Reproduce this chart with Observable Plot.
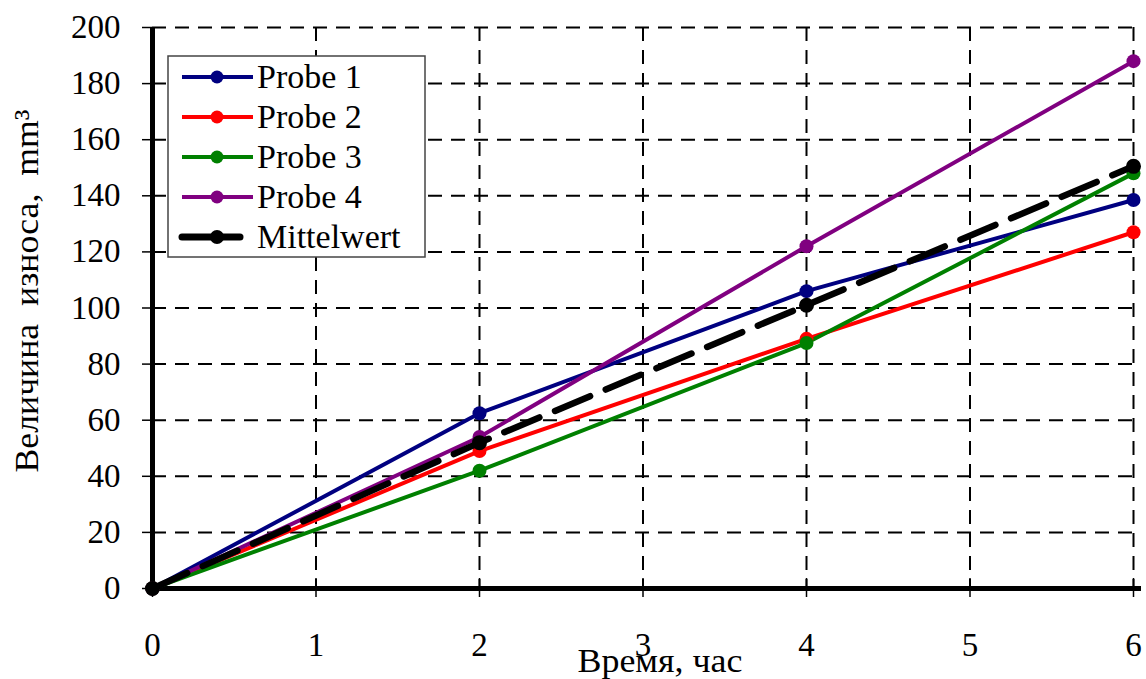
<!DOCTYPE html>
<html>
<head>
<meta charset="utf-8">
<script src="https://cdn.jsdelivr.net/npm/d3@7"></script>
<script src="https://cdn.jsdelivr.net/npm/@observablehq/plot@0.6"></script>
<style>
  html, body { margin: 0; padding: 0; background: #fff; }
  #chart { width: 1146px; height: 679px; }
  #chart svg, #chart svg text { font-family: "Liberation Serif", "DejaVu Serif", serif !important; }
</style>
</head>
<body>
<div id="chart"></div>
<script>
const xTicks = [0, 1, 2, 3, 4, 5, 6];
const yTicks = [0, 20, 40, 60, 80, 100, 120, 140, 160, 180, 200];
const hours = [0, 2, 4, 6];
const probe1 = [0, 62.5, 106, 138.5];
const probe2 = [0, 49, 89, 127];
const probe3 = [0, 42, 87.5, 148];
const probe4 = [0, 54, 122, 188];
const mittelwert = [0, 52, 101, 150.5];
const seriesNames = ["Probe 1", "Probe 2", "Probe 3", "Probe 4", "Mittelwert"];
const seriesColors = ["#000080", "#ff0000", "#008000", "#800080", "#000000"];
const xTitle = "Время, час";
const yTitle = "Величина  износа,  mm³";

const seriesValues = [probe1, probe2, probe3, probe4, mittelwert];
const rows = seriesNames.flatMap((name, i) =>
  hours.map((h, j) => ({ name, hour: h, value: seriesValues[i][j] })));
const probeRows = rows.filter(d => d.name !== "Mittelwert");
const meanRows = rows.filter(d => d.name === "Mittelwert");

const FONT = "Liberation Serif, DejaVu Serif, serif";

const chart = Plot.plot({
  width: 1146,
  height: 679,
  marginLeft: 152,
  marginRight: 13,
  marginTop: 27,
  marginBottom: 91,
  style: { fontFamily: FONT, color: "#000", background: "#fff" },
  x: { domain: [0, 6], ticks: xTicks },
  y: { domain: [0, 200], ticks: yTicks },
  color: { domain: seriesNames, range: seriesColors },
  marks: [
    Plot.ruleY(yTicks.filter(d => d > 0), { stroke: "#000", strokeWidth: 2, strokeDasharray: "14,9" }),
    Plot.ruleX(xTicks.filter(d => d > 0), { stroke: "#000", strokeWidth: 2, strokeDasharray: "14,9" }),
    Plot.ruleX(xTicks, { y1: 0, y2: 0, insetTop: -10, insetBottom: -9, stroke: "#000", strokeWidth: 1.5 }),
    Plot.ruleX([0], { stroke: "#000", strokeWidth: 5 }),
    Plot.ruleY([0], { stroke: "#000", strokeWidth: 5, insetRight: -8 }),
    Plot.line(probeRows, { x: "hour", y: "value", z: "name", stroke: "name", strokeWidth: 4 }),
    Plot.dot(probeRows, { x: "hour", y: "value", fill: "name", r: 7 }),
    Plot.line(meanRows, { x: "hour", y: "value", stroke: "#000", strokeWidth: 6.5, strokeDasharray: "38,17" }),
    Plot.dot(meanRows, { x: "hour", y: "value", fill: "#000", r: 7.5 }),
    Plot.axisY(yTicks, { tickSize: 10, tickPadding: 22, fontSize: 33, label: null, strokeWidth: 1.5 }),
    Plot.axisX(xTicks, { tickSize: 0, tickPadding: 44, fontSize: 33, label: null, tickFormat: d3.format("d") })
  ]
});

document.getElementById("chart").appendChild(chart);

const svg = d3.select(chart);

// Axis titles
svg.append("text")
  .attr("transform", "translate(38,291) rotate(-90)")
  .attr("text-anchor", "middle")
  .attr("font-family", FONT)
  .attr("font-size", 34)
  .attr("textLength", 363)
  .attr("lengthAdjust", "spacingAndGlyphs")
  .style("white-space", "pre")
  .attr("fill", "#000")
  .text(yTitle);

svg.append("text")
  .attr("x", 660)
  .attr("y", 672)
  .attr("text-anchor", "middle")
  .attr("font-family", FONT)
  .attr("font-size", 33)
  .attr("textLength", 165)
  .attr("lengthAdjust", "spacingAndGlyphs")
  .attr("fill", "#000")
  .text(xTitle);

// Legend
const lg = svg.append("g");
lg.append("rect")
  .attr("x", 168).attr("y", 56).attr("width", 257).attr("height", 201)
  .attr("fill", "#fff").attr("stroke", "#444").attr("stroke-width", 1.5);
seriesNames.forEach((name, i) => {
  const cy = 77 + i * 40;
  const isMean = name === "Mittelwert";
  lg.append("line")
    .attr("x1", 182).attr("x2", isMean ? 240 : 253)
    .attr("y1", cy).attr("y2", cy)
    .attr("stroke", seriesColors[i])
    .attr("stroke-width", isMean ? 7 : 4)
    .attr("stroke-linecap", isMean ? "round" : "butt");
  lg.append("circle")
    .attr("cx", 217).attr("cy", cy).attr("r", isMean ? 7 : 6.5)
    .attr("fill", seriesColors[i]);
  lg.append("text")
    .attr("x", 257).attr("y", cy + 11)
    .attr("text-anchor", "start")
    .attr("font-family", FONT)
    .attr("font-size", 34)
    .attr("fill", "#000")
    .text(name);
});
</script>
</body>
</html>
